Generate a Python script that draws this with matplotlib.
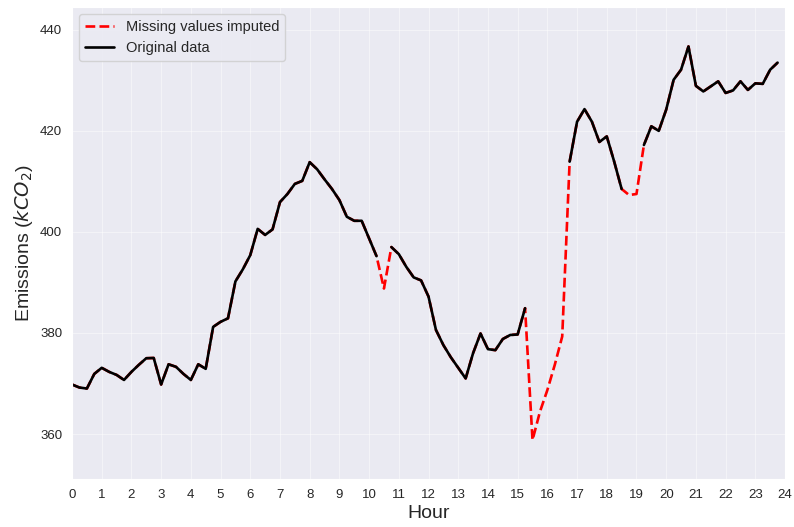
import numpy as np
import matplotlib.pyplot as plt
import seaborn as sns

# quarter-hour readings over one day
hours = np.arange(96) * 0.25

# emissions with gaps filled in
imputed = [
    369.8, 369.2, 369.0, 371.9, 373.1, 372.3, 371.7, 370.7,
    372.3, 373.7, 375.0, 375.05, 369.8, 373.8, 373.3, 371.9,
    370.7, 373.8, 372.9, 381.2, 382.2, 382.9, 390.2, 392.6,
    395.4, 400.6, 399.4, 400.5, 405.9, 407.5, 409.5, 410.1,
    413.8, 412.4, 410.4, 408.5, 406.3, 403.0, 402.2, 402.2,
    398.7, 395.2, 388.8, 397.0, 395.6, 393.1, 391.0, 390.4,
    387.2, 380.6, 377.6, 375.2, 373.1, 371.0, 376.0, 379.9,
    376.8, 376.6, 378.8, 379.6, 379.7, 384.9, 358.8, 364.4,
    368.7, 373.7, 379.3, 413.9, 421.8, 424.3, 421.8, 417.8,
    418.9, 413.9, 408.5, 407.3, 407.5, 417.2, 420.9, 420.0,
    424.2, 430.1, 432.1, 436.7, 428.9, 427.8, 428.8, 429.8,
    427.5, 428.0, 429.8, 428.1, 429.4, 429.3, 432.1, 433.5,
]

# slots where the raw series had no reading
missing_idx = [42, 62, 63, 64, 65, 66, 75, 76]

original = np.array(imputed, dtype=float)
original[missing_idx] = np.nan

sns.set_style("darkgrid")
plt.rcParams['font.family'] = ['Liberation Sans', 'DejaVu Sans']

fig = plt.figure(figsize=(7.94, 5.27), dpi=100)
ax = fig.add_axes([0.0907, 0.0911, 0.898, 0.896])

ax.plot(hours, imputed, color='red', linestyle='--', linewidth=1.9,
        label='Missing values imputed')
ax.plot(hours, original, color='black', linewidth=1.9, label='Original data')

ax.set_xlim(0, 24)
ax.set_xticks(range(25))
ax.set_ylim(351.1, 444.55)
ax.set_yticks([360, 380, 400, 420, 440])
ax.tick_params(labelsize=9.5, labelcolor='0.15')
ax.grid(True, color='white', linewidth=0.8, alpha=0.45)

ax.set_xlabel('Hour', fontsize=14, labelpad=3, color='0.15')
ax.set_ylabel('Emissions ($kCO_2$)', fontsize=14, color='0.15')

ax.legend(loc='upper left', fontsize=10.5)

fig.savefig('out.png', dpi=100)
